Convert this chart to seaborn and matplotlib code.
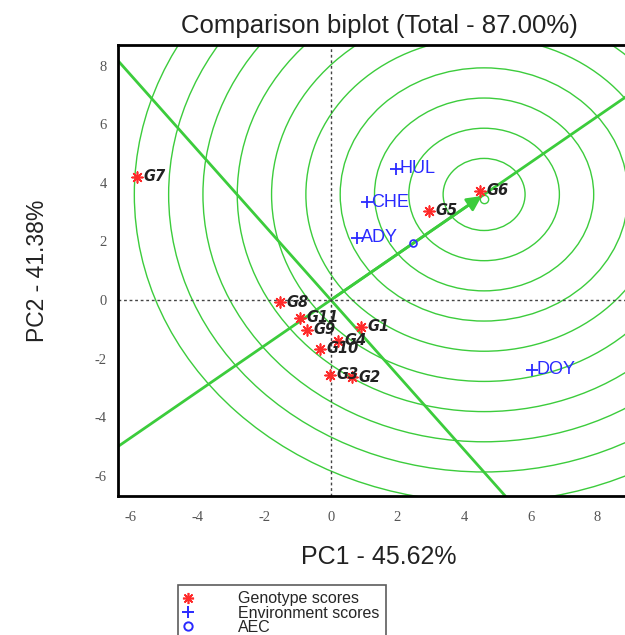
import matplotlib.pyplot as plt
import seaborn as sns
import numpy as np
import pandas as pd
from matplotlib.lines import Line2D
from matplotlib.patches import Circle

# genotype scores (PC1, PC2)
genotypes = ['G1', 'G2', 'G3', 'G4', 'G5', 'G6', 'G7', 'G8', 'G9', 'G10', 'G11']
gen_pc1 = [0.90, 0.63, -0.03, 0.21, 2.94, 4.47, -5.83, -1.53, -0.72, -0.33, -0.93]
gen_pc2 = [-0.92, -2.63, -2.56, -1.40, 3.04, 3.72, 4.20, -0.07, -1.02, -1.67, -0.61]

# environment scores
environments = ['HUL', 'CHE', 'ADY', 'DOY']
env_pc1 = [1.95, 1.08, 0.78, 6.04]
env_pc2 = [4.47, 3.34, 2.12, -2.39]

aec_point = [2.46, 1.95]
ideal_point = [4.60, 3.60]
circle_radii = [1.23, 2.26, 3.29, 4.32, 5.35, 6.38, 7.41, 8.44, 9.47, 10.50]

df_gen = pd.DataFrame({'PC1': gen_pc1, 'PC2': gen_pc2, 'name': genotypes})
df_env = pd.DataFrame({'PC1': env_pc1, 'PC2': env_pc2, 'name': environments})

sns.set_style('white')
plt.rcParams['axes.unicode_minus'] = False
green = '#3ccc3c'
txt = '#222222'

fig = plt.figure(figsize=(6.25, 6.35), dpi=100)
ax = fig.add_axes([118 / 625, 1 - 496 / 635, 522 / 625, 451 / 635])
ax.set_xlim(-6.39, 9.28)
ax.set_ylim(-6.69, 8.7)

# concentric circles around the ideal genotype
for r in circle_radii:
    ax.add_patch(Circle(ideal_point, r, fill=False, ec=green, lw=1.0, zorder=1))

# AEC axis and its perpendicular through the origin
slope = ideal_point[1] / ideal_point[0]
ax.axline((0, 0), slope=slope, color=green, lw=2, zorder=2)
ax.axline((0, 0), slope=-1 / slope, color=green, lw=2, zorder=2)
ax.annotate('', xy=ideal_point, xytext=(0, 0),
            arrowprops=dict(arrowstyle='-|>', color=green, lw=2, mutation_scale=22), zorder=3)
ax.plot(ideal_point[0], ideal_point[1] - 0.15, 'o', mfc='none', mec=green, ms=6, zorder=3)

ax.axhline(0, color='#444444', lw=1, ls=(0, (2, 2)), zorder=2)
ax.axvline(0, color='#444444', lw=1, ls=(0, (2, 2)), zorder=2)

# points
sns.scatterplot(data=df_gen, x='PC1', y='PC2', marker=(8, 2, 0), color='#ff2a2a',
                s=60, linewidth=1.2, ax=ax, zorder=4)
for _, row in df_gen.iterrows():
    ax.annotate(row['name'], (row['PC1'], row['PC2']), xytext=(5, 0),
                textcoords='offset points', va='center', ha='left',
                fontsize=10.5, fontweight='bold', fontstyle='italic', color=txt, zorder=5)

sns.scatterplot(data=df_env, x='PC1', y='PC2', marker='+', color='#2a2aff',
                s=70, linewidth=1.3, ax=ax, zorder=4)
for _, row in df_env.iterrows():
    ax.annotate(row['name'], (row['PC1'], row['PC2']), xytext=(3, 0),
                textcoords='offset points', va='center', ha='left',
                fontsize=13, color='#2a2aff', family='Liberation Sans', zorder=5)

ax.plot(aec_point[0], aec_point[1], 'o', mfc='none', mec='#2a2aff', ms=5, mew=1.2, zorder=4)

# axes styling
for sp in ax.spines.values():
    sp.set_color('black')
    sp.set_linewidth(2)
ax.set_xticks(range(-6, 9, 2))
ax.set_yticks(range(-6, 9, 2))
ax.tick_params(length=0, labelsize=10.5, labelcolor='#555555')
ax.tick_params(axis='x', pad=11)
ax.tick_params(axis='y', pad=8)
for lab in ax.get_xticklabels() + ax.get_yticklabels():
    lab.set_family('Liberation Serif')

ax.set_title('Comparison biplot (Total - 87.00%)', fontsize=18.5,
             family='Liberation Sans', color=txt, pad=9)
ax.set_xlabel('PC1 - 45.62%', fontsize=18, family='Liberation Sans', color=txt, labelpad=15)
ax.set_ylabel('PC2 - 41.38%', fontsize=16.5, family='Liberation Sans', color=txt, labelpad=33)

handles = [
    Line2D([], [], marker=(8, 2, 0), color='#ff2a2a', ls='none', ms=8, mew=1.2),
    Line2D([], [], marker='+', color='#2a2aff', ls='none', ms=8, mew=1.4),
    Line2D([], [], marker='o', mfc='none', mec='#2a2aff', ls='none', ms=6, mew=1.4),
]
leg = fig.legend(handles, ['Genotype scores', 'Environment scores', 'AEC'],
                 loc='upper left', bbox_to_anchor=(178 / 625, 1 - 585 / 635),
                 frameon=True, fancybox=False, handlelength=0.5, borderaxespad=0,
                 handletextpad=2.85, labelspacing=-0.05, borderpad=0.4,
                 prop={'family': 'Liberation Sans', 'size': 11.5})
leg.get_frame().set_edgecolor('#333333')
leg.get_frame().set_linewidth(1.2)

fig.savefig('out.png', dpi=100)
